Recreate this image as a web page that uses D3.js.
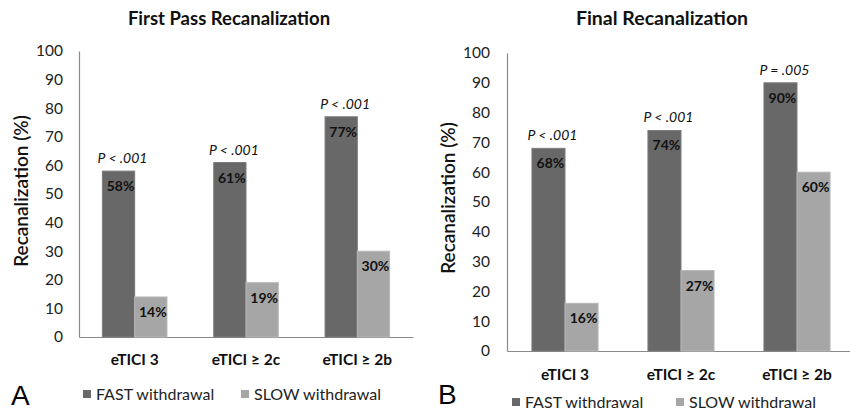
<!DOCTYPE html>
<html><head><meta charset="utf-8">
<script src="https://cdn.jsdelivr.net/npm/d3@7"></script>
<style>
html,body{margin:0;padding:0;background:#fff;}
svg{display:block;}
</style>
</head><body>
<svg id="chart" width="850" height="411"></svg>
<script>
const categories = ["eTICI 3", "eTICI \u2265 2c", "eTICI \u2265 2b"];
const seriesNames = ["FAST withdrawal", "SLOW withdrawal"];
const firstPassFast = [58, 61, 77];
const firstPassSlow = [14, 19, 30];
const finalFast = [68, 74, 90];
const finalSlow = [16, 27, 60];
const firstPassP = ["P < .001", "P < .001", "P < .001"];
const finalP = ["P < .001", "P < .001", "P = .005"];
const yTicks = [0, 10, 20, 30, 40, 50, 60, 70, 80, 90, 100];
const titles = ["First Pass Recanalization", "Final Recanalization"];
const panelLetters = ["A", "B"];
const yTitle = "Recanalization (%)";

const colors = ["#686868", "#a6a6a6"];
const strokes = ["#7c7c7c", "#b8b8b8"];
const FONT = "Lato, 'Open Sans', sans-serif";

const panels = [
  {fast: firstPassFast, slow: firstPassSlow, p: firstPassP, title: titles[0], letter: panelLetters[0],
   x0: 79, x1: 413, y0: 337, y1: 51, pad: 0.42, titleX: 229, titleY: 25, titleSize: 18.5,
   yTitleX: 28, yTitleY: 191, catY: 365, legY: 394, legSq: [83, 241], letterX: 11, letterY: 405, tickGap: 16},
  {fast: finalFast, slow: finalSlow, p: finalP, title: titles[1], letter: panelLetters[1],
   x0: 507, x1: 855, y0: 351, y1: 53, pad: 0.43, titleX: 662, titleY: 25, titleSize: 19.5,
   yTitleX: 455, yTitleY: 198, catY: 380, legY: 402, legSq: [512, 676], letterX: 438, letterY: 404, tickGap: 17}
];

const svg = d3.select("#chart");

panels.forEach(P => {
  const g = svg.append("g");
  const x = d3.scaleBand().domain(categories).range([P.x0, P.x1]).paddingInner(P.pad).paddingOuter(P.pad / 2);
  const xs = d3.scaleBand().domain(seriesNames).range([0, x.bandwidth()]);
  const y = d3.scaleLinear().domain([0, 100]).range([P.y0, P.y1]);

  // Axes
  const yAxis = d3.axisLeft(y).tickValues(yTicks).tickSize(0).tickPadding(P.tickGap);
  const ya = g.append("g").attr("transform", `translate(${P.x0},0)`).call(yAxis);
  ya.select(".domain").attr("stroke", "#8a8a8a").attr("stroke-width", 1.2);
  ya.selectAll("text").attr("font-family", FONT).attr("font-size", 15.5).attr("fill", "#222");

  const xAxis = d3.axisBottom(x).tickSize(0).tickFormat("");
  const xa = g.append("g").attr("transform", `translate(0,${P.y0})`).call(xAxis);
  xa.select(".domain").attr("stroke", "#8a8a8a").attr("stroke-width", 1.2);

  const rows = categories.map((c, i) => ({cat: c, vals: [P.fast[i], P.slow[i]], p: P.p[i]}));

  // Bars
  rows.forEach(r => {
    r.vals.forEach((v, si) => {
      const bx = x(r.cat) + xs(seriesNames[si]);
      g.append("rect")
        .attr("x", bx).attr("y", y(v))
        .attr("width", xs.bandwidth()).attr("height", y(0) - y(v))
        .attr("fill", colors[si]).attr("stroke", strokes[si]).attr("stroke-width", 1);
      g.append("text")
        .attr("x", bx + xs.bandwidth() / 2 + 2).attr("y", y(v) + 20)
        .attr("text-anchor", "middle").attr("font-family", FONT).attr("font-weight", "bold")
        .attr("font-size", 14).attr("fill", "#111").text(v + "%");
    });
    const fx = x(r.cat) + xs(seriesNames[0]) + xs.bandwidth() / 2;
    g.append("text")
      .attr("x", fx + 4).attr("y", y(r.vals[0]) - 8)
      .attr("text-anchor", "middle").attr("font-family", FONT).attr("font-style", "italic")
      .attr("font-size", 14).attr("fill", "#111").text(r.p);
    g.append("text")
      .attr("x", x(r.cat) + x.bandwidth() / 2).attr("y", P.catY)
      .attr("text-anchor", "middle").attr("font-family", FONT).attr("font-weight", "bold")
      .attr("font-size", 15.5).attr("fill", "#111").text(r.cat);
  });

  // Title
  g.append("text").attr("x", P.titleX).attr("y", P.titleY).attr("text-anchor", "middle")
    .attr("font-family", FONT).attr("font-weight", "bold").attr("font-size", P.titleSize)
    .attr("fill", "#111").text(P.title);

  // Y title
  g.append("text").attr("transform", `translate(${P.yTitleX},${P.yTitleY}) rotate(-90)`)
    .attr("text-anchor", "middle").attr("font-family", FONT).attr("font-weight", 600)
    .attr("font-size", 19).attr("fill", "#111").text(yTitle);

  // Legend
  seriesNames.forEach((s, si) => {
    g.append("rect").attr("x", P.legSq[si]).attr("y", P.legY - 4).attr("width", 8).attr("height", 8)
      .attr("fill", colors[si]);
    g.append("text").attr("x", P.legSq[si] + 13).attr("y", P.legY).attr("dy", "0.35em")
      .attr("font-family", FONT).attr("font-size", 16).attr("fill", "#222").text(s);
  });

  // Panel letter
  g.append("text").attr("x", P.letterX).attr("y", P.letterY)
    .attr("font-family", "'Liberation Sans', Arial, sans-serif").attr("font-size", 28)
    .attr("fill", "#000").text(P.letter);
});
</script>
</body></html>
